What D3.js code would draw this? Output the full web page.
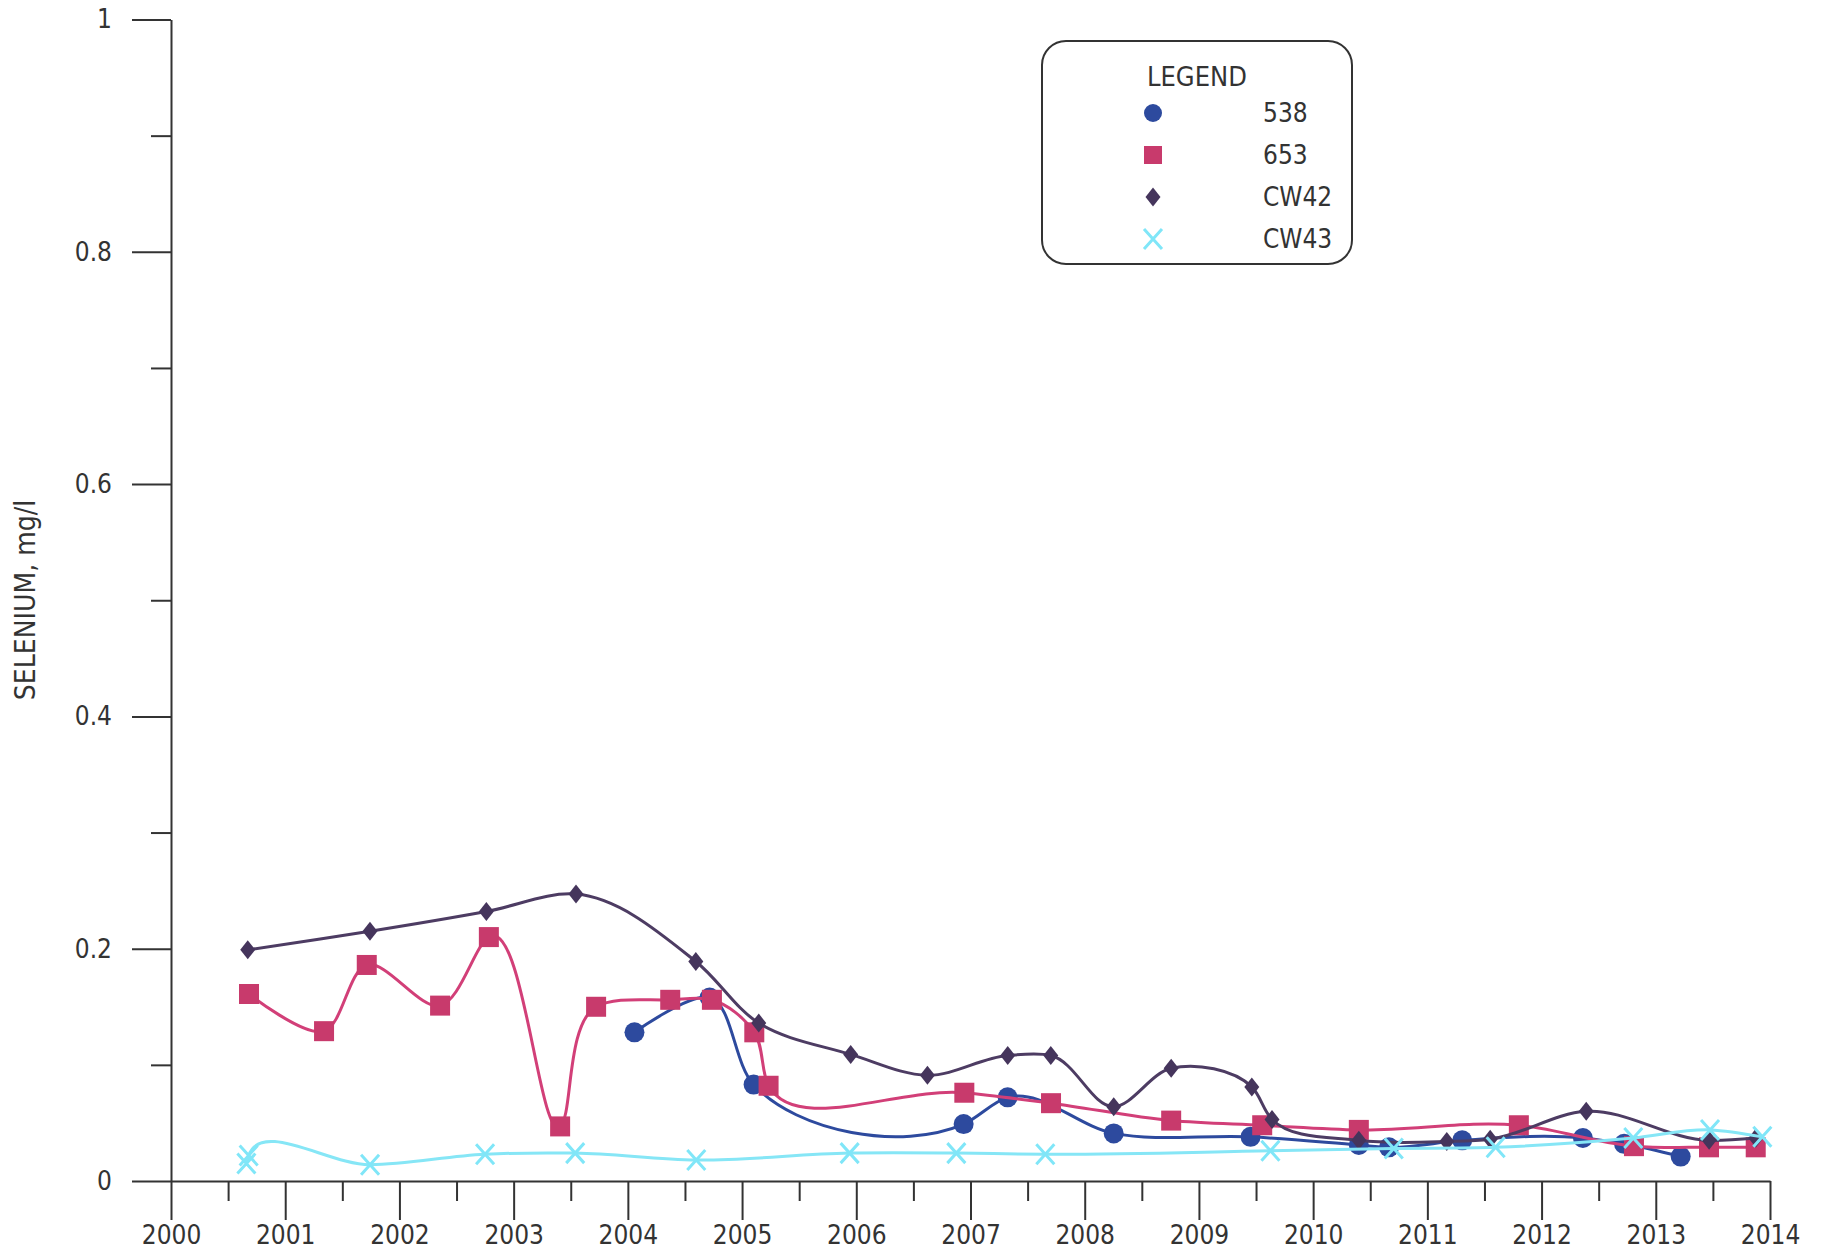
<!DOCTYPE html>
<html><head><meta charset="utf-8">
<script src="https://cdn.jsdelivr.net/npm/d3@7"></script>
<style>
html,body{margin:0;padding:0;background:#fff;}
svg text{font-family:"DejaVu Sans Condensed","DejaVu Sans",sans-serif;font-stretch:condensed;fill:#333;}
</style></head>
<body><svg id="c" width="1824" height="1255"></svg>
<script>
const yearTicks = [2000,2001,2002,2003,2004,2005,2006,2007,2008,2009,2010,2011,2012,2013,2014];
const yTicks = [0,0.2,0.4,0.6,0.8,1];
const yTickLabels = ["0","0.2","0.4","0.6","0.8","1"];
const seriesNames = ["538","653","CW42","CW43"];

const s538x = [2004.058,2004.716,2005.101,2006.940,2007.325,2008.254,2009.452,2010.400,2010.664,2011.305,2012.362,2012.722,2013.218];
const s538y = [0.128,0.158,0.083,0.049,0.072,0.041,0.038,0.031,0.029,0.035,0.037,0.032,0.021];

const s653x = [2000.683,2001.340,2001.714,2002.356,2002.783,2003.407,2003.722,2004.371,2004.736,2005.107,2005.232,2006.946,2007.705,2008.757,2009.554,2010.400,2011.801,2012.809,2013.466,2013.875];
const s653y = [0.161,0.129,0.186,0.151,0.210,0.047,0.150,0.156,0.156,0.128,0.082,0.076,0.067,0.052,0.048,0.044,0.048,0.030,0.029,0.029];

const cw42x = [2000.672,2001.742,2002.761,2003.546,2004.595,2005.146,2005.951,2006.623,2007.326,2007.703,2008.254,2008.757,2009.463,2009.640,2010.400,2011.170,2011.550,2012.391,2013.467,2013.876];
const cw42y = [0.199,0.215,0.232,0.247,0.189,0.136,0.109,0.091,0.108,0.108,0.064,0.097,0.081,0.053,0.035,0.034,0.036,0.060,0.035,0.037];

const cw43x = [2000.660,2000.680,2001.743,2002.750,2003.539,2004.599,2005.942,2006.876,2007.655,2009.626,2010.706,2011.598,2012.803,2013.475,2013.933];
const cw43y = [0.015,0.022,0.014,0.023,0.024,0.018,0.024,0.024,0.023,0.026,0.028,0.029,0.037,0.044,0.038];

const svg = d3.select("#c");
const x = d3.scaleLinear().domain([2000,2014]).range([171,1770]);
const y = d3.scaleLinear().domain([0,1]).range([1181,19.5]);
const axisColor = "#333";

// Y axis
const gy = svg.append("g").attr("transform","translate(171,0)");
gy.call(d3.axisLeft(y).tickValues(yTicks).tickSize(39).tickSizeOuter(0).tickPadding(20)
  .tickFormat((d,i)=>yTickLabels[i]));
gy.append("g").call(d3.axisLeft(y).tickValues([0.1,0.3,0.5,0.7,0.9]).tickSize(20).tickSizeOuter(0).tickFormat(""))
  .select(".domain").remove();
// X axis
const gx = svg.append("g").attr("transform","translate(0,1181)");
gx.call(d3.axisBottom(x).tickValues(yearTicks).tickSize(39).tickSizeOuter(0).tickPadding(6)
  .tickFormat(d3.format("d")));
gx.append("g").call(d3.axisBottom(x).tickValues(d3.range(2000.5,2014,1)).tickSize(20).tickSizeOuter(0).tickFormat(""))
  .select(".domain").remove();
svg.selectAll(".domain, .tick line").attr("stroke",axisColor).attr("stroke-width",2);
svg.selectAll(".tick text").attr("font-size",26).attr("fill","#333");

// Y title
svg.append("text").attr("transform","translate(35,600) rotate(-90)")
  .attr("text-anchor","middle").attr("font-size",28).text("SELENIUM, mg/l");

const series = [
  {name:"538", xs:s538x, ys:s538y, line:"#2d4a9e", fill:"#2d4a9e", shape:"circle"},
  {name:"653", xs:s653x, ys:s653y, line:"#d23f78", fill:"#c83a6c", shape:"square"},
  {name:"CW42", xs:cw42x, ys:cw42y, line:"#4d3c63", fill:"#45355c", shape:"diamond"},
  {name:"CW43", xs:cw43x, ys:cw43y, line:"#86e6f6", fill:"#80e6f8", shape:"x"}
];

const line = d3.line().x(d=>x(d[0])).y(d=>y(d[1])).curve(d3.curveCatmullRom.alpha(1));

function drawMarker(g, shape, color, cx, cy, scale){
  scale = scale||1;
  if(shape==="circle"){
    g.append("circle").attr("cx",cx).attr("cy",cy).attr("r",10*scale).attr("fill",color);
  } else if(shape==="square"){
    const s=20*scale;
    g.append("rect").attr("x",cx-s/2).attr("y",cy-s/2).attr("width",s).attr("height",s).attr("fill",color);
  } else if(shape==="diamond"){
    const w=7.5*scale,h=9.5*scale;
    g.append("path").attr("d",`M${cx},${cy-h}L${cx+w},${cy}L${cx},${cy+h}L${cx-w},${cy}Z`).attr("fill",color);
  } else {
    const w=9*scale,h=10*scale;
    g.append("path").attr("d",`M${cx-w},${cy-h}L${cx+w},${cy+h}M${cx-w},${cy+h}L${cx+w},${cy-h}`)
      .attr("stroke",color).attr("stroke-width",3).attr("fill","none");
  }
}

series.forEach(s=>{
  const pts = s.xs.map((v,i)=>[v,s.ys[i]]);
  const g = svg.append("g");
  g.append("path").datum(pts).attr("d",line).attr("fill","none").attr("stroke",s.line).attr("stroke-width",3);
  pts.forEach(p=>drawMarker(g,s.shape,s.fill,x(p[0]),y(p[1])));
});

// Legend
const lg = svg.append("g");
lg.append("rect").attr("x",1042).attr("y",41).attr("width",310).attr("height",223).attr("rx",24)
  .attr("fill","#fff").attr("stroke","#333").attr("stroke-width",2);
lg.append("text").attr("x",1147).attr("y",86).attr("font-size",27).text("LEGEND");
series.forEach((s,i)=>{
  const cy = 113 + i*42;
  drawMarker(lg,s.shape,s.fill,1153,cy, s.shape==="square"?0.9:(s.shape==="circle"?0.9:1));
  lg.append("text").attr("x",1263).attr("y",cy+9).attr("font-size",26).text(seriesNames[i]);
});
</script></body></html>
